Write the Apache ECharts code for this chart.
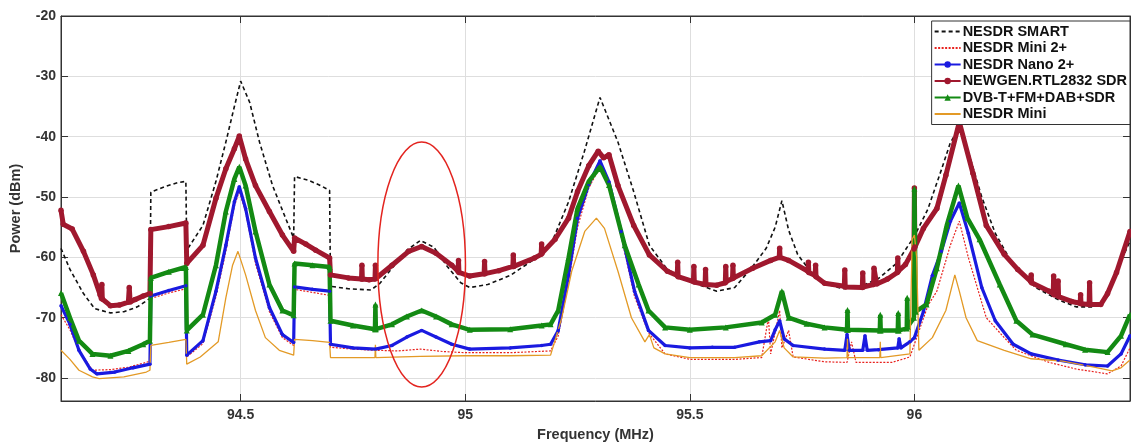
<!DOCTYPE html>
<html><head><meta charset="utf-8">
<script src="https://cdn.jsdelivr.net/npm/echarts@6/dist/echarts.min.js"></script>
<style>html,body{margin:0;padding:0;background:#fff}#c{width:1131px;height:447px}</style>
</head><body><div id="c"></div>
<script>
// ---- axis ticks ----
const xTicks = [94.5, 95, 95.5, 96];
const yTicks = [-80, -70, -60, -50, -40, -30, -20];
const seriesNames = ['NESDR SMART', 'NESDR Mini 2+', 'NESDR Nano 2+', 'NEWGEN.RTL2832 SDR', 'DVB-T+FM+DAB+SDR', 'NESDR Mini'];

// ---- series values: [frequency MHz, power dBm] ----
const nesdrSmart = [[94.100,-58.5],[94.12,-62],[94.15,-66],[94.175,-68.5],[94.21,-69.2],[94.24,-69],[94.27,-68.2],[94.29,-67.2],[94.298,-66.8],
[94.300,-49.2],[94.33,-48.3],[94.36,-47.6],[94.378,-47.4],
[94.380,-58.8],[94.416,-54.7],[94.445,-47.4],[94.467,-40.9],[94.486,-35],[94.50,-30.8],[94.52,-34.3],[94.542,-40.9],[94.571,-48.1],[94.60,-53.5],[94.618,-56.8],
[94.620,-46.6],[94.65,-47.2],[94.675,-48],[94.698,-48.9],
[94.700,-64.8],[94.74,-65.2],[94.79,-65.4],[94.81,-64.3],[94.84,-61.5],[94.87,-58.8],[94.90,-57.2],[94.93,-58.3],[94.96,-61.5],[94.99,-64.2],[95.01,-65],[95.05,-64.5],[95.10,-63],[95.15,-60.5],[95.19,-58],[95.23,-50.8],[95.265,-42.5],[95.30,-33.5],[95.34,-40.9],[95.375,-49.1],[95.41,-58],[95.45,-62],[95.50,-64],[95.56,-65.6],[95.60,-65],[95.64,-61.5],[95.67,-58.5],[95.69,-55],[95.705,-50.6],[95.72,-55.5],[95.74,-59.5],[95.77,-62.5],[95.80,-64.3],[95.84,-65.2],[95.88,-64.8],[95.92,-63.5],[95.96,-61],[96.00,-56.5],[96.03,-52],[96.06,-45.5],[96.08,-41],[96.10,-38.5],[96.12,-42.5],[96.15,-50],[96.18,-56],[96.22,-61.3],[96.27,-65],[96.32,-67],[96.36,-68.2],[96.40,-68.2],[96.43,-66.5],[96.45,-62.3],[96.48,-57.3]];

const nesdrMini2 = [[94.100,-69.5],[94.12,-72],[94.14,-75.4],[94.17,-78.7],[94.21,-78.6],[94.25,-78.2],[94.29,-77.4],[94.298,-77.2],
[94.300,-66.8],[94.34,-65.9],[94.378,-65.2],
[94.380,-76.5],[94.416,-74.3],[94.445,-66.5],[94.467,-59],[94.486,-51.5],[94.497,-49],[94.511,-52.5],[94.533,-61],[94.564,-69],[94.593,-73.3],[94.618,-74.6],
[94.620,-65.3],[94.66,-65.8],[94.698,-66.3],
[94.700,-74.9],[94.75,-75.2],[94.80,-75.4],[94.85,-75.5],[94.90,-75.2],[94.95,-75.6],[95.00,-75.8],[95.10,-75.8],[95.19,-75.5],[95.207,-73],[95.23,-64],[95.25,-55],[95.275,-48.5],[95.30,-45],[95.32,-48],[95.347,-56.5],[95.377,-66.5],[95.408,-72.5],[95.445,-76],[95.50,-76.9],[95.60,-76.9],[95.66,-76.6],[95.675,-70],[95.68,-76],[95.70,-68.8],[95.705,-75],[95.72,-72.1],[95.73,-76.5],[95.80,-77.3],[95.85,-77.4],[95.86,-74],[95.87,-77.4],[95.95,-77.4],[95.99,-76.5],[96.03,-68],[96.05,-65.6],[96.08,-58],[96.10,-54],[96.12,-60],[96.16,-70],[96.20,-73.3],[96.227,-75.4],[96.30,-77.4],[96.36,-78.5],[96.43,-79.3],[96.46,-78],[96.48,-75]];

const nesdrNano2 = [[94.100,-68],[94.12,-71.1],[94.14,-75.4],[94.165,-78.5],[94.18,-79.3],[94.22,-79],[94.26,-78.3],[94.298,-77.7],
[94.300,-66.4],[94.34,-65.5],[94.378,-64.7],
[94.380,-76.2],[94.416,-73.8],[94.445,-65.6],[94.467,-58],[94.486,-50.8],[94.497,-48.3],[94.511,-51.9],[94.533,-60.1],[94.564,-68.3],[94.593,-72.8],[94.618,-74.1],
[94.620,-64.9],[94.66,-65.3],[94.698,-65.6],
[94.700,-74.4],[94.75,-75],[94.80,-75.2],[94.837,-74.6],[94.87,-73.2],[94.903,-72.1],[94.935,-73.2],[94.97,-74.4],[95.01,-75.2],[95.10,-75],[95.17,-74.6],[95.19,-74.4],[95.207,-72.1],[95.23,-62.9],[95.25,-53.5],[95.275,-47.9],[95.30,-44],[95.32,-47.5],[95.347,-55.7],[95.377,-65.6],[95.408,-72.1],[95.445,-74.6],[95.50,-75],[95.55,-74.9],[95.60,-74.9],[95.655,-74],[95.68,-73.8],[95.69,-72],[95.70,-70.5],[95.71,-73.5],[95.73,-74.6],[95.80,-75.2],[95.845,-75.4],[95.85,-72.8],[95.855,-75.4],[95.885,-75.4],[95.89,-73],[95.895,-75.4],[95.92,-75.3],[95.963,-75],[95.966,-73.5],[95.97,-75],[95.99,-74],[96.00,-73.3],[96.02,-69],[96.04,-63],[96.06,-59],[96.08,-54],[96.10,-51],[96.12,-56],[96.15,-65],[96.18,-70.5],[96.22,-74.4],[96.26,-76],[96.32,-77],[96.38,-77.8],[96.43,-78],[96.46,-76],[96.48,-73]];

const newgenRtl = [[94.100,-52.2],[94.105,-54.5],[94.125,-55.3],[94.15,-59],[94.172,-62.9],[94.187,-66.2],[94.19,-66.8],[94.191,-64.5],[94.192,-66.9],[94.21,-68],[94.23,-67.9],[94.25,-67.4],[94.252,-65],[94.254,-67.4],[94.265,-67],[94.283,-66.4],[94.298,-66.0],
[94.300,-55.4],[94.34,-54.9],[94.378,-54.3],
[94.380,-61],[94.416,-58],[94.445,-50.2],[94.467,-45.3],[94.486,-42],[94.497,-39.9],[94.511,-43.7],[94.533,-48.1],[94.564,-52.4],[94.593,-56.3],[94.618,-59],
[94.620,-56.8],[94.645,-57.8],[94.667,-58.8],[94.698,-60.1],
[94.700,-62.9],[94.74,-63.4],[94.769,-63.6],[94.77,-61.3],[94.771,-63.6],[94.786,-63.7],[94.799,-63.6],[94.80,-61.3],[94.801,-63.5],[94.837,-61.3],[94.874,-59],[94.903,-58.2],[94.935,-59.3],[94.97,-61.3],[94.984,-62.3],[94.985,-60.5],[94.986,-62.5],[95.01,-63.1],[95.042,-62.7],[95.043,-60.7],[95.044,-62.7],[95.075,-62.2],[95.106,-61.5],[95.107,-59.6],[95.108,-61.5],[95.154,-60.1],[95.169,-59.5],[95.17,-57.8],[95.171,-59.3],[95.20,-57],[95.23,-53.5],[95.25,-49.1],[95.275,-44.8],[95.296,-42.4],[95.308,-43.5],[95.32,-43],[95.34,-48.1],[95.375,-54.7],[95.41,-59.6],[95.45,-62.3],[95.472,-63],[95.473,-60.8],[95.474,-63.2],[95.508,-64],[95.509,-61.5],[95.510,-64.1],[95.534,-64.5],[95.535,-62],[95.536,-64.5],[95.56,-64.6],[95.579,-64.2],[95.58,-61.5],[95.581,-64],[95.595,-63.5],[95.596,-61.3],[95.597,-63.4],[95.64,-61.8],[95.68,-60.5],[95.699,-60],[95.70,-58.5],[95.701,-60],[95.72,-60.5],[95.763,-62.3],[95.764,-60.8],[95.765,-62.5],[95.779,-63],[95.78,-61.3],[95.781,-63.2],[95.80,-64.3],[95.844,-64.8],[95.845,-62.1],[95.846,-64.9],[95.884,-65],[95.885,-62.6],[95.886,-64.9],[95.909,-64.5],[95.91,-61.8],[95.916,-64.4],[95.94,-63.6],[95.962,-62.5],[95.963,-60.1],[95.964,-62.3],[95.98,-61.2],[95.999,-58.6],[96.00,-48.5],[96.001,-58.3],[96.02,-55.2],[96.05,-51.9],[96.07,-46.4],[96.10,-37.6],[96.13,-46],[96.16,-54.7],[96.20,-59.5],[96.23,-62],[96.259,-64],[96.26,-62.9],[96.261,-64.2],[96.30,-65.6],[96.309,-66],[96.31,-63.1],[96.311,-66.2],[96.319,-66.3],[96.32,-63.9],[96.321,-66.5],[96.35,-67.3],[96.369,-67.6],[96.37,-66.2],[96.371,-67.7],[96.389,-67.8],[96.39,-64.2],[96.391,-67.8],[96.415,-67.8],[96.43,-66],[96.45,-62.5],[96.48,-55.7]];

const dvbtFmDab = [[94.100,-65.9],[94.12,-70],[94.14,-73.8],[94.17,-76],[94.21,-76.3],[94.25,-75.5],[94.283,-74.4],[94.298,-73.8],
[94.300,-63.4],[94.34,-62.4],[94.378,-61.6],
[94.380,-72.1],[94.416,-69.5],[94.445,-61.3],[94.467,-52.4],[94.486,-47],[94.497,-45],[94.511,-48.1],[94.533,-55.7],[94.564,-64.5],[94.593,-68.8],[94.618,-69.6],
[94.620,-61],[94.66,-61.3],[94.698,-61.6],
[94.700,-70.5],[94.75,-71.3],[94.799,-71.9],[94.80,-67.8],[94.801,-71.9],[94.837,-71.1],[94.87,-69.8],[94.903,-68.8],[94.935,-69.8],[94.97,-71.1],[95.01,-72],[95.10,-71.9],[95.17,-71.3],[95.19,-71.1],[95.207,-68.8],[95.23,-60.1],[95.25,-51.9],[95.275,-47.4],[95.30,-45],[95.32,-48],[95.355,-58],[95.386,-64.5],[95.408,-68.8],[95.445,-71.6],[95.50,-72],[95.58,-71.6],[95.66,-70.8],[95.69,-69.5],[95.705,-65.6],[95.72,-70],[95.76,-71],[95.80,-71.6],[95.85,-72],[95.851,-68.7],[95.852,-72],[95.923,-72.1],[95.924,-69.5],[95.925,-72.1],[95.963,-72.1],[95.964,-69.2],[95.965,-72.1],[95.983,-71.8],[95.984,-66.7],[95.985,-71.5],[95.999,-70],[96.00,-48.6],[96.003,-69],[96.027,-67.8],[96.05,-61.8],[96.072,-54.7],[96.098,-48.1],[96.118,-53.5],[96.145,-57],[96.19,-64.5],[96.227,-70.5],[96.263,-72.8],[96.337,-74.4],[96.38,-75.3],[96.43,-75.7],[96.46,-73],[96.48,-69.5]];

const nesdrMini = [[94.100,-75.4],[94.12,-76.9],[94.14,-78.7],[94.17,-79.8],[94.185,-80.1],[94.24,-79.8],[94.29,-79],[94.298,-78.7],
[94.300,-74.6],[94.34,-74.1],[94.378,-73.6],
[94.380,-77.7],[94.41,-76.5],[94.45,-74],[94.467,-66.7],[94.482,-61.3],[94.494,-59],[94.511,-62.9],[94.533,-68.8],[94.555,-73.3],[94.586,-75.4],[94.618,-76.2],
[94.620,-73.6],[94.66,-73.8],[94.698,-74.1],
[94.700,-76.6],[94.75,-76.6],[94.799,-76.6],[94.80,-74.5],[94.801,-76.6],[94.90,-76.4],[95.00,-76.3],[95.10,-76.3],[95.19,-76.2],[95.215,-70],[95.237,-62.3],[95.266,-55.7],[95.292,-53.5],[95.31,-55.2],[95.34,-62.3],[95.37,-70],[95.40,-74],[95.41,-72.8],[95.42,-75],[95.445,-76],[95.50,-76.6],[95.60,-76.6],[95.66,-76.3],[95.69,-74],[95.70,-72.1],[95.71,-75],[95.73,-76.5],[95.80,-76.7],[95.85,-76.6],[95.851,-73.5],[95.852,-76.6],[95.923,-76.6],[95.924,-74],[95.925,-76.6],[95.99,-76],[95.995,-57],[96.00,-56.3],[96.005,-60],[96.01,-75.4],[96.04,-73.3],[96.07,-68.8],[96.09,-62.9],[96.10,-65.6],[96.115,-70],[96.14,-73.8],[96.20,-75.4],[96.26,-76.8],[96.33,-77.2],[96.40,-78.2],[96.44,-78.8],[96.46,-78.3],[96.48,-77]];

// highlight ellipse annotation: [centre MHz, centre dBm, width MHz, height dB]
const highlightEllipse = [[94.903, -61.2, 0.195, 40.6]];

const chart = echarts.init(document.getElementById('c'), null, {renderer: 'canvas'});
const font = "'Liberation Sans', Arial, sans-serif";
const axisText = {fontFamily: font, fontWeight: 'bold', fontSize: 14, color: '#333'};

function lineSeries(name, data, color, width, extra) {
  return Object.assign({
    name, type: 'line', data, xAxisIndex: 0, yAxisIndex: 0,
    symbol: 'none', showSymbol: false, animation: false, smooth: false,
    lineStyle: {color, width}, itemStyle: {color}, emphasis: {disabled: true}
  }, extra || {});
}

const noMarker = {opacity: 0};
chart.setOption({
  animation: false,
  backgroundColor: '#fff',
  grid: {left: 57, right: 1, top: 16, bottom: 42, show: true, borderColor: '#333', borderWidth: 1, backgroundColor: 'transparent'},
  legend: {
    data: [
      {name: seriesNames[0], itemStyle: noMarker},
      {name: seriesNames[1], itemStyle: noMarker},
      {name: seriesNames[2]},
      {name: seriesNames[3]},
      {name: seriesNames[4]},
      {name: seriesNames[5], itemStyle: noMarker}
    ],
    orient: 'vertical', right: 1, top: 21,
    itemWidth: 26, itemHeight: 8, itemGap: 1.5,
    padding: [3, 3, 3, 2], backgroundColor: '#fff', borderColor: '#333', borderWidth: 1, borderRadius: 0,
    textStyle: {fontFamily: font, fontWeight: 'bold', fontSize: 14.5, color: '#111', padding: [0, 0, 0, -3]},
    z: 20, selectedMode: false
  },
  xAxis: [{
    type: 'value', min: 94.1, max: 96.48, position: 'bottom',
    name: 'Frequency (MHz)', nameLocation: 'middle', nameGap: 26,
    nameTextStyle: {fontFamily: font, fontWeight: 'bold', fontSize: 14.5, color: '#333'},
    axisLine: {show: true, onZero: false, lineStyle: {color: '#333', width: 1}},
    axisTick: {show: true, inside: true, length: 7, customValues: xTicks, lineStyle: {color: '#333'}},
    axisLabel: {customValues: xTicks, margin: 7, ...axisText},
    splitLine: {show: true, lineStyle: {color: '#dedede', width: 1}}
  }, {
    type: 'value', min: 94.1, max: 96.48, position: 'top',
    axisLine: {show: true, onZero: false, lineStyle: {color: '#333'}},
    axisTick: {show: true, inside: true, length: 7, customValues: xTicks, lineStyle: {color: '#333'}},
    axisLabel: {show: false}, splitLine: {show: false}
  }],
  yAxis: [{
    type: 'value', min: -83.8, max: -20, position: 'left',
    name: 'Power (dBm)', nameLocation: 'middle', nameGap: 38, nameRotate: 90,
    nameTextStyle: {fontFamily: font, fontWeight: 'bold', fontSize: 14.5, color: '#333'},
    axisLine: {show: true, onZero: false, lineStyle: {color: '#333', width: 1}},
    axisTick: {show: true, inside: true, length: 7, customValues: yTicks, lineStyle: {color: '#333'}},
    axisLabel: {customValues: yTicks, margin: 5, ...axisText},
    splitLine: {show: true, lineStyle: {color: '#dedede', width: 1}}
  }, {
    type: 'value', min: -83.8, max: -20, position: 'right',
    axisLine: {show: true, onZero: false, lineStyle: {color: '#333'}},
    axisTick: {show: true, inside: true, length: 7, customValues: yTicks, lineStyle: {color: '#333'}},
    axisLabel: {show: false}, splitLine: {show: false}
  }],
  series: [
    lineSeries(seriesNames[0], nesdrSmart, '#111111', 1.6, {lineStyle: {color: '#111', width: 1.6, type: [4, 3]}}),
    lineSeries(seriesNames[1], nesdrMini2, '#e8231f', 1.2, {lineStyle: {color: '#e8231f', width: 1.2, type: [2, 1.5]}}),
    lineSeries(seriesNames[2], nesdrNano2, '#1a1ae0', 3.2, {symbol: 'circle', showSymbol: true, symbolSize: 3.5}),
    lineSeries(seriesNames[3], newgenRtl, '#a0182e', 5, {symbol: 'circle', showSymbol: true, symbolSize: 5.5}),
    lineSeries(seriesNames[4], dvbtFmDab, '#138a13', 4.5, {symbol: 'triangle', showSymbol: true, symbolSize: 6}),
    lineSeries(seriesNames[5], nesdrMini, '#e39a26', 1.3),
    {
      type: 'custom', name: 'highlight', data: highlightEllipse, silent: true, z: 10,
      xAxisIndex: 0, yAxisIndex: 0, animation: false,
      renderItem: function (params, api) {
        const c = api.coord([api.value(0), api.value(1)]);
        const s = api.size([api.value(2), api.value(3)]);
        return {
          type: 'path',
          shape: {pathData: 'M0 50 A50 50 0 1 0 100 50 A50 50 0 1 0 0 50 Z', x: c[0] - s[0] / 2, y: c[1] - s[1] / 2, width: s[0], height: s[1], layout: 'cover'},
          style: {fill: 'none', stroke: '#e3241f', lineWidth: 1.5}
        };
      }
    }
  ]
});
</script>
</body></html>
